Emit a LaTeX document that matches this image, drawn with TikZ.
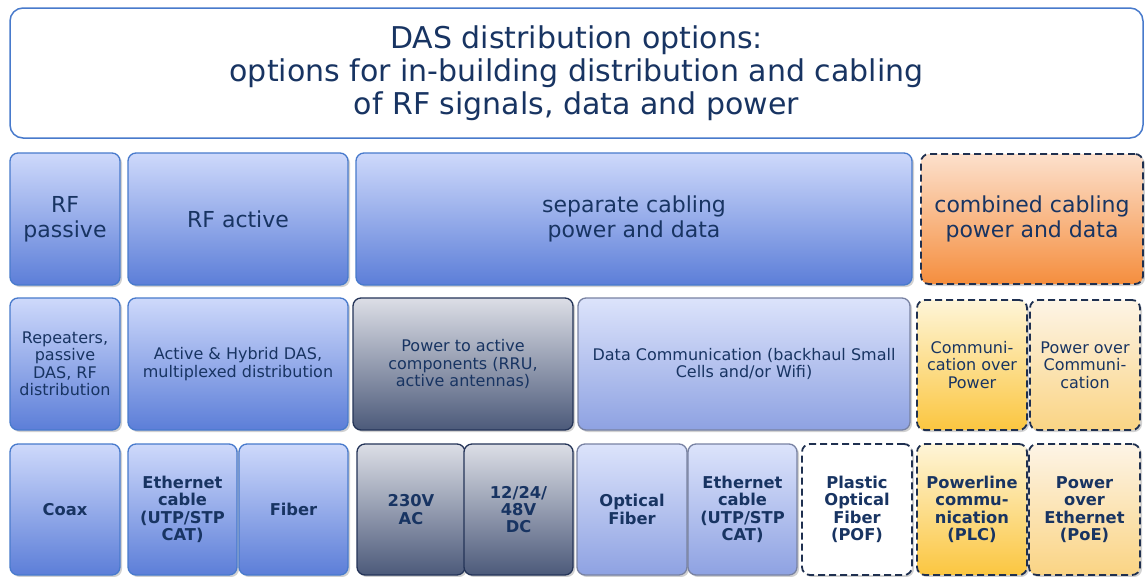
\documentclass[tikz,border=0pt]{standalone}
\usepackage{fontspec}
\setmainfont{DejaVu Sans}
\usetikzlibrary{shadows}

\definecolor{ink}{RGB}{24,52,98}
\definecolor{navy}{RGB}{31,48,80}
\definecolor{blueLine}{RGB}{72,122,204}
\definecolor{blueTop}{RGB}{206,217,251}
\definecolor{blueMid}{RGB}{166,185,242}
\definecolor{blueBot}{RGB}{92,126,216}
\definecolor{greyLine}{RGB}{36,52,88}
\definecolor{greyTop}{RGB}{220,222,230}
\definecolor{greyMid}{RGB}{172,177,194}
\definecolor{greyBot}{RGB}{76,90,122}
\definecolor{lavLine}{RGB}{120,130,162}
\definecolor{lavTop}{RGB}{220,227,251}
\definecolor{lavMid}{RGB}{192,203,244}
\definecolor{lavBot}{RGB}{142,162,226}
\definecolor{orangeTop}{RGB}{252,224,204}
\definecolor{orangeMid}{RGB}{248,184,134}
\definecolor{orangeBot}{RGB}{245,142,62}
\definecolor{yellowTop}{RGB}{254,245,216}
\definecolor{yellowMid}{RGB}{253,226,150}
\definecolor{yellowBot}{RGB}{251,198,64}
\definecolor{creamTop}{RGB}{253,244,230}
\definecolor{creamMid}{RGB}{252,232,192}
\definecolor{creamBot}{RGB}{250,212,132}

% one box from (x1,y1) to (x2,y2): name, x1, y1, x2, y2, style, text
\newcommand\cellbox[7]{%
  \node[#6, minimum width={#4-#2}, minimum height={#5-#3}]
    (#1) at ({(#2+#4)/2},{(#3+#5)/2}) {#7};}

\tikzset{
  cellbase/.style={rounded corners=8pt, line width=1.3pt, align=center,
    inner sep=0pt, text=ink,
    drop shadow={shadow xshift=2pt, shadow yshift=-2pt, opacity=0.18, fill=black}},
  bluebox/.style={cellbase, draw=blueLine,
    top color=blueTop, middle color=blueMid, bottom color=blueBot},
  greybox/.style={cellbase, draw=greyLine,
    top color=greyTop, middle color=greyMid, bottom color=greyBot},
  lavbox/.style={cellbase, draw=lavLine,
    top color=lavTop, middle color=lavMid, bottom color=lavBot},
  dashbox/.style={cellbase, draw=navy, line width=1.8pt,
    dash pattern=on 7pt off 4pt},
  orangebox/.style={dashbox,
    top color=orangeTop, middle color=orangeMid, bottom color=orangeBot},
  yellowbox/.style={dashbox,
    top color=yellowTop, middle color=yellowMid, bottom color=yellowBot},
  creambox/.style={dashbox,
    top color=creamTop, middle color=creamMid, bottom color=creamBot},
  whitebox/.style={dashbox, fill=white},
  headtext/.style={font=\fontsize{22}{25}\selectfont},
  midtext/.style={font=\fontsize{16}{17.5}\selectfont},
  lowtext/.style={font=\bfseries\fontsize{16.3}{17.4}\selectfont},
}

\begin{document}
\begin{tikzpicture}[x=1pt,y=-1pt]
\useasboundingbox (0,0) rectangle (1145,576);
\fill[white] (0,0) rectangle (1145,576);

% title banner
\node[draw=blueLine, line width=1.5pt, rounded corners=13pt, fill=white,
  minimum width=1133pt, minimum height=130pt, inner sep=0pt, align=center,
  text=ink, font=\fontsize{30}{33}\selectfont] (title) at (576.5,73)
  {DAS distribution options:\\options for in-building distribution and cabling\\of RF signals, data and power};

% categories
\cellbox{rfp}{10}{153}{120}{285}{bluebox,headtext}{RF\\passive}
\cellbox{rfa}{128}{153}{348}{285}{bluebox,headtext}{RF active}
\cellbox{sep}{356}{153}{912}{285}{bluebox,headtext}{separate cabling\\power and data}
\cellbox{comb}{921}{154}{1143}{284}{orangebox,headtext}{combined cabling\\power and data}

% sub-categories
\cellbox{rep}{10}{298}{120}{430}{bluebox,midtext}{Repeaters,\\passive\\DAS, RF\\distribution}
\cellbox{hyb}{128}{298}{348}{430}{bluebox,midtext}{Active \& Hybrid DAS,\\multiplexed distribution}
\cellbox{pwr}{353}{298}{573}{430}{greybox,midtext}{Power to active\\components (RRU,\\active antennas)}
\cellbox{data}{578}{298}{910}{430}{lavbox,midtext}{Data Communication (backhaul Small\\Cells and/or Wifi)}
\cellbox{cop}{917}{300}{1027}{430}{yellowbox,midtext}{Communi-\\cation over\\Power}
\cellbox{poc}{1030}{300}{1140}{430}{creambox,midtext}{Power over\\Communi-\\cation}

% cabling media
\cellbox{coax}{10}{444}{120}{575}{bluebox,lowtext}{Coax}
\cellbox{eth}{128}{444}{237}{575}{bluebox,lowtext}{Ethernet\\cable\\(UTP/STP\\CAT)}
\cellbox{fib}{239}{444}{348}{575}{bluebox,lowtext}{Fiber}
\cellbox{ac}{357}{444}{465}{575}{greybox,lowtext}{230V\\AC}
\cellbox{dc}{464}{444}{573}{575}{greybox,lowtext}{12/24/\\48V\\DC}
\cellbox{opt}{577}{444}{687}{575}{lavbox,lowtext}{Optical\\Fiber}
\cellbox{eth2}{688}{444}{797}{575}{lavbox,lowtext}{Ethernet\\cable\\(UTP/STP\\CAT)}
\cellbox{pof}{802}{444}{912}{575}{whitebox,lowtext}{Plastic\\Optical\\Fiber\\(POF)}
\cellbox{plc}{917}{444}{1027}{575}{yellowbox,lowtext}{Powerline\\commu-\\nication\\(PLC)}
\cellbox{poe}{1029}{444}{1140}{575}{creambox,lowtext}{Power\\over\\Ethernet\\(PoE)}
\end{tikzpicture}
\end{document}
